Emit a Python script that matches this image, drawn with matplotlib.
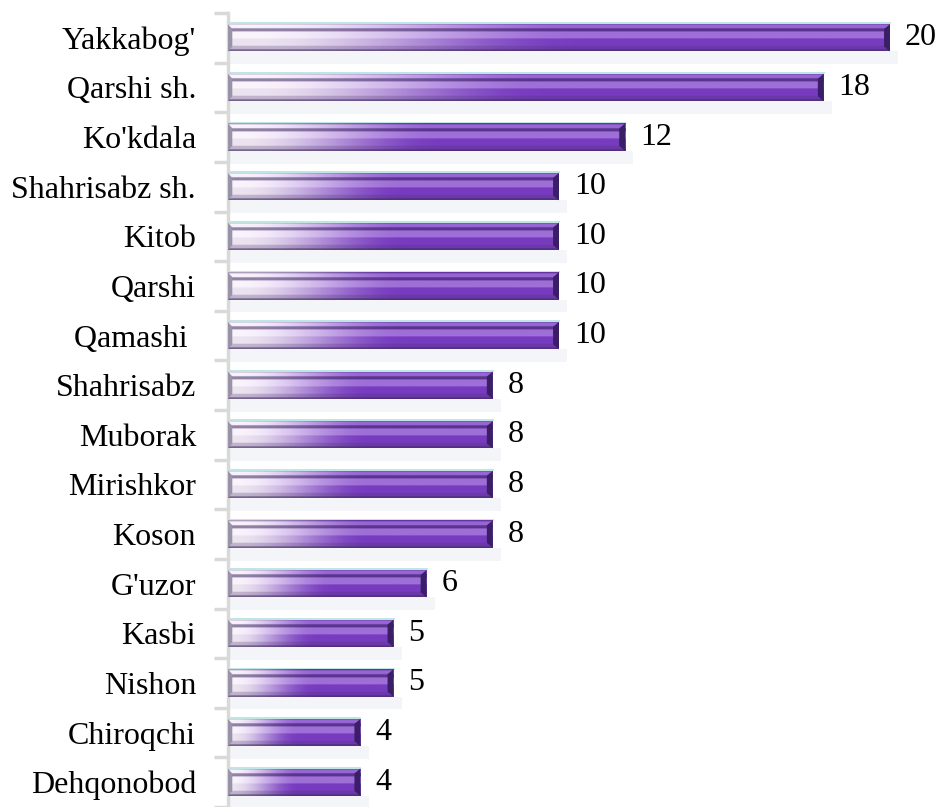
import numpy as np
import matplotlib.pyplot as plt
from matplotlib.patches import Rectangle, Polygon

# chart data
districts = ["Yakkabog'", "Qarshi sh.", "Ko'kdala", "Shahrisabz sh.", "Kitob", "Qarshi",
             "Qamashi ", "Shahrisabz", "Muborak", "Mirishkor", "Koson", "G'uzor",
             "Kasbi", "Nishon", "Chiroqchi", "Dehqonobod"]
counts = [20, 18, 12, 10, 10, 10, 10, 8, 8, 8, 8, 6, 5, 5, 4, 4]

plt.rcParams['font.family'] = ['Liberation Serif', 'DejaVu Serif']

fig = plt.figure(figsize=(9.42, 8.07), dpi=100)
W, H = 942, 807
row_px = 50
top_px = 13
ax = fig.add_axes([228 / W, 0, 1 - 228 / W, (H - top_px) / H])

n = len(districts)
ypos = np.arange(n)
bar_h = 0.55

bars = ax.barh(ypos, counts, height=bar_h, color='none', edgecolor='none')


def hex_rgb(h):
    h = h.lstrip('#')
    return np.array([int(h[i:i + 2], 16) for i in (0, 2, 4)]) / 255.0


# gradient texture used for every bar
gw, gh = 300, 80
t = np.linspace(0, 1, gw)
s = np.linspace(0, 1, gh)
light = hex_rgb('#f8f0fc')
purple = hex_rgb('#7e3fca')
k = np.clip((t - 0.03) / 0.5, 0, 1)
k = k * k * (3 - 2 * k)
base = light[None, :] * (1 - k[:, None]) + purple[None, :] * k[:, None]   # (gw,3)
img = np.repeat(base[None, :, :], gh, axis=0)

dark = hex_rgb('#3e2a5e')
white = np.ones(3)
for j, sv in enumerate(s):
    if sv < 0.04:
        img[j] = img[j] * 0.6 + dark * 0.4
    elif sv < 0.18:
        img[j] = img[j] * 0.8 + white * 0.2
    elif sv < 0.30:
        img[j] = img[j] * 0.45 + dark * 0.55
    elif sv < 0.55:
        img[j] = img[j] * 0.75 + white * 0.25
    elif sv < 0.82:
        img[j] = img[j] * 0.95
    elif sv < 0.94:
        img[j] = img[j] * 0.7 + dark * 0.3
    else:
        img[j] = img[j] * 0.3 + dark * 0.7

for b, v in zip(bars, counts):
    x0, y0 = b.get_x(), b.get_y()
    w, h = b.get_width(), b.get_height()
    # faint shadow below the bar
    ax.add_patch(Rectangle((x0, y0 + h), w + 0.25, 0.26, facecolor='#f3f5f8',
                           edgecolor='none', zorder=1))
    ax.plot([x0, x0 + w], [y0 - 0.015, y0 - 0.015], color='#b3e0e0', lw=1.2, zorder=2)
    im = ax.imshow(img, extent=(x0, x0 + w, y0 + h, y0), aspect='auto',
                   interpolation='bilinear', zorder=3)
    im.set_clip_path(b)
    # dark bevelled end cap on the right
    cap = 0.18
    ax.add_patch(Polygon([(x0 + w - cap, y0 + 0.18 * h), (x0 + w, y0),
                          (x0 + w, y0 + h), (x0 + w - cap, y0 + 0.82 * h)],
                         closed=True, facecolor='#3a1f66', edgecolor='none', zorder=4))
    # grey bevel on the left
    ax.add_patch(Polygon([(x0, y0), (x0 + 0.13, y0 + 0.18 * h),
                          (x0 + 0.13, y0 + 0.82 * h), (x0, y0 + h)],
                         closed=True, facecolor='#9a92a6', edgecolor='none', zorder=4))
    ax.text(x0 + w + 0.45, y0 + h / 2, str(v), ha='left', va='center',
            fontsize=23, color='black', zorder=5)

ax.set_xlim(0, (W - 228) / 33.1)
ax.set_ylim(-0.5 + (H - top_px) / row_px, -0.5)

ax.set_yticks(ypos)
ax.set_yticklabels(districts, fontsize=23)
ax.set_yticks(np.arange(n + 1) - 0.5, minor=True)
ax.tick_params(axis='y', which='major', length=0, pad=23)
ax.tick_params(axis='y', which='minor', length=10, width=2.5, color='#d9d9d9')
ax.set_xticks([])

for side in ['top', 'right', 'bottom']:
    ax.spines[side].set_visible(False)
ax.spines['left'].set_color('#d9d9d9')
ax.spines['left'].set_linewidth(2.5)
ax.spines['left'].set_bounds(-0.5, n)

fig.savefig('out.png', dpi=100)
